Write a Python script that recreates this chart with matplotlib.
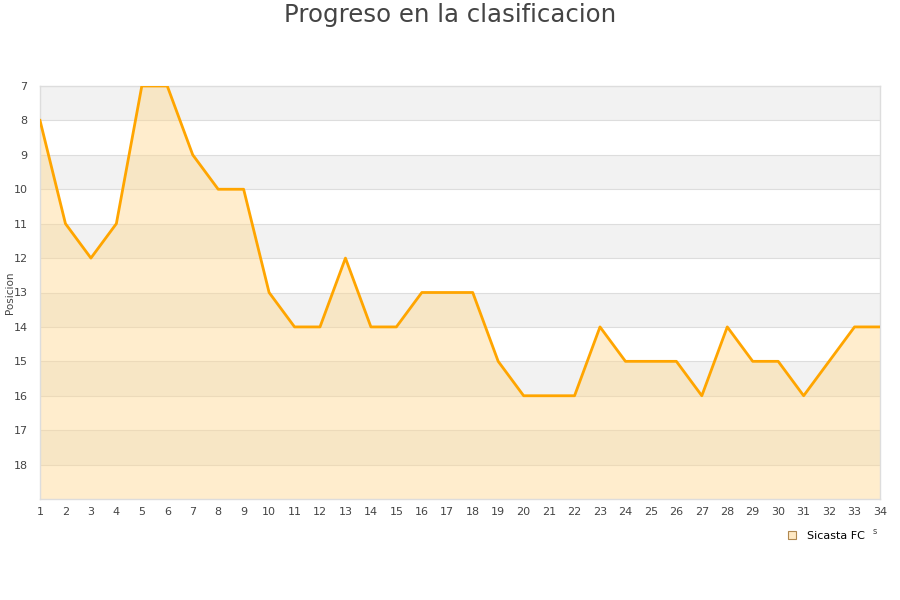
import matplotlib.pyplot as plt
from matplotlib.lines import Line2D

jornadas = list(range(1, 35))
posicion = [8, 11, 12, 11, 7, 7, 9, 10, 10, 13, 14, 14, 12, 14, 14, 13, 13, 13,
            15, 16, 16, 16, 14, 15, 15, 15, 16, 14, 15, 15, 16, 15, 14, 14]
etiquetas_y = list(range(7, 19))
equipo = 'Sicasta FC'

fig = plt.figure(figsize=(9, 6), dpi=100)
ax = fig.add_axes([40 / 900, 1 - 499 / 600, 840 / 900, 413 / 600])

# bandas alternas de fondo
for y0 in range(7, 19, 2):
    ax.axhspan(y0, y0 + 1, color='#f2f2f2', zorder=0, lw=0)
for y in range(8, 19):
    ax.axhline(y, color='#dddddd', lw=0.8, zorder=1)

ax.fill_between(jornadas, posicion, 19, color='#ffd890', alpha=0.45, lw=0, zorder=2)
ax.plot(jornadas, posicion, color='#ffa500', lw=2, zorder=3)

ax.set_xlim(1, 34)
ax.set_ylim(19, 7)
ax.set_xticks(jornadas)
ax.set_yticks(etiquetas_y)
ax.tick_params(length=0, labelsize=8, colors='#444444', pad=6)
ax.tick_params(axis='y', pad=9)
for s in ax.spines.values():
    s.set_color('#dddddd')
    s.set_linewidth(1)

ax.set_ylabel('Posicion', fontsize=7.5, color='#444444')
ax.yaxis.set_label_coords(-25 / 840, 0.5)
fig.text(0.5, 1 - 15 / 600, 'Progreso en la clasificacion', ha='center', va='center',
         fontsize=17.6, color='#444444')

handle = Line2D([], [], marker='s', ls='none', markersize=6,
                markerfacecolor='#ffe9c4', markeredgecolor='#b08850', markeredgewidth=0.8)
fig.legend([handle], [equipo], loc='center', bbox_to_anchor=(823 / 900, 1 - 536 / 600),
           frameon=False, fontsize=8, handletextpad=0.3, borderaxespad=0)
fig.text(875 / 900, 1 - 531 / 600, 's', fontsize=6, color='#444444', ha='center', va='center')

fig.savefig('out.png', dpi=100)
